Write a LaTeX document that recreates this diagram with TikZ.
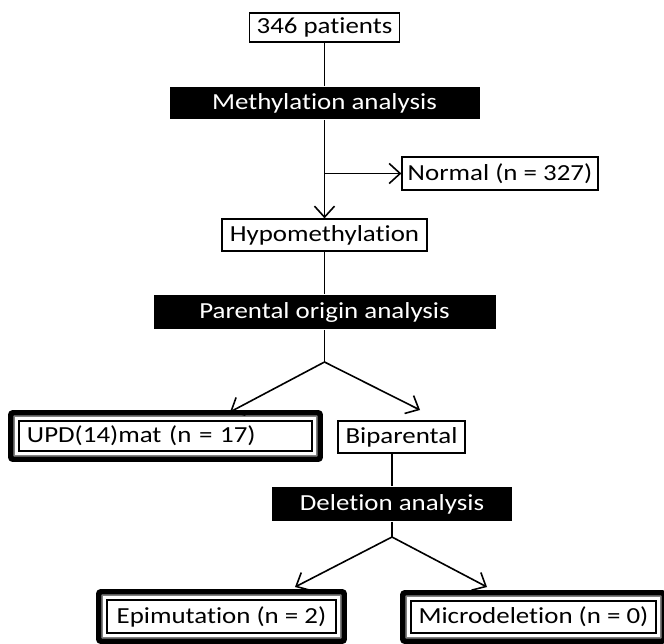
\documentclass[tikz,border=0pt]{standalone}
\usepackage{fontspec}
\setmainfont{Carlito}[FakeStretch=1.17,Ligatures=NoCommon]
\usetikzlibrary{arrows.meta}
\begin{document}
\begin{tikzpicture}[x=1pt,y=-1pt,line width=1.6pt,
    font=\fontsize{23}{26}\selectfont,
    box/.style={rectangle,draw,line width=1.3pt,inner sep=0pt},
    bar/.style={rectangle,fill=black,text=white,inner sep=0pt},
    arr/.style={-{Straight Barb[length=11pt,width=20pt]}}]
    \useasboundingbox (0,0) rectangle (664,643);
    \node[box,minimum width=150,minimum height=29] at (324.5,27.5) (pat) {346 patients};
    \node[bar,minimum width=310,minimum height=32] at (324.5,103) (meth) {Methylation analysis};
    \node[box,minimum width=196,minimum height=33] at (500,173.5) (normal) {Normal (n = 327)};
    \node[box,minimum width=205,minimum height=32] at (324.5,235) (hypo) {Hypomethylation};
    \node[bar,minimum width=342,minimum height=34] at (324.5,312) (parent) {Parental origin analysis};
    \node[box,minimum width=293,minimum height=30,text width=277,align=left] at (165.5,436) (upd) {UPD(14)mat (n = 17)};
    \node[box,minimum width=127,minimum height=32] at (401.5,437) (bip) {Biparental};
    \node[bar,minimum width=240,minimum height=34] at (392,504) (del) {Deletion analysis};
    \node[box,minimum width=229,minimum height=33] at (221.5,616.5) (epi) {Epimutation (n = 2)};
    \node[box,minimum width=245,minimum height=32] at (533.5,617) (micro) {Microdeletion (n = 0)};
    % frames round the results
    \foreach \n in {upd,epi,micro} {
        \draw[gray,line width=1.2pt] ([shift={(-3.5pt,-3.5pt)}]\n.south west) rectangle ([shift={(3.5pt,3.5pt)}]\n.north east);
        \draw[line width=5.5pt,rounded corners=2pt] ([shift={(-7.5pt,-7.5pt)}]\n.south west) rectangle ([shift={(7.5pt,7.5pt)}]\n.north east);
    }
    \coordinate (j1) at (324.5,173.5);
    \coordinate (j2) at (324.5,362);
    \coordinate (j3) at (392,537);
    \coordinate (updtop) at (230,412);
    \coordinate (biptop) at (420,410);
    \coordinate (epitop) at (295,587);
    \coordinate (microtop) at (487,587);
    \draw (pat) -- (meth);
    \draw[arr] (meth) -- (hypo);
    \draw[arr] (j1) -- (normal);
    \draw (hypo) -- (parent);
    \draw (parent) -- (j2);
    \draw[arr] (j2) -- (updtop);
    \draw[arr] (j2) -- (biptop);
    \draw (bip.south -| del) -- (del);
    \draw (del) -- (j3);
    \draw[arr] (j3) -- (epitop);
    \draw[arr] (j3) -- (microtop);
\end{tikzpicture}
\end{document}
